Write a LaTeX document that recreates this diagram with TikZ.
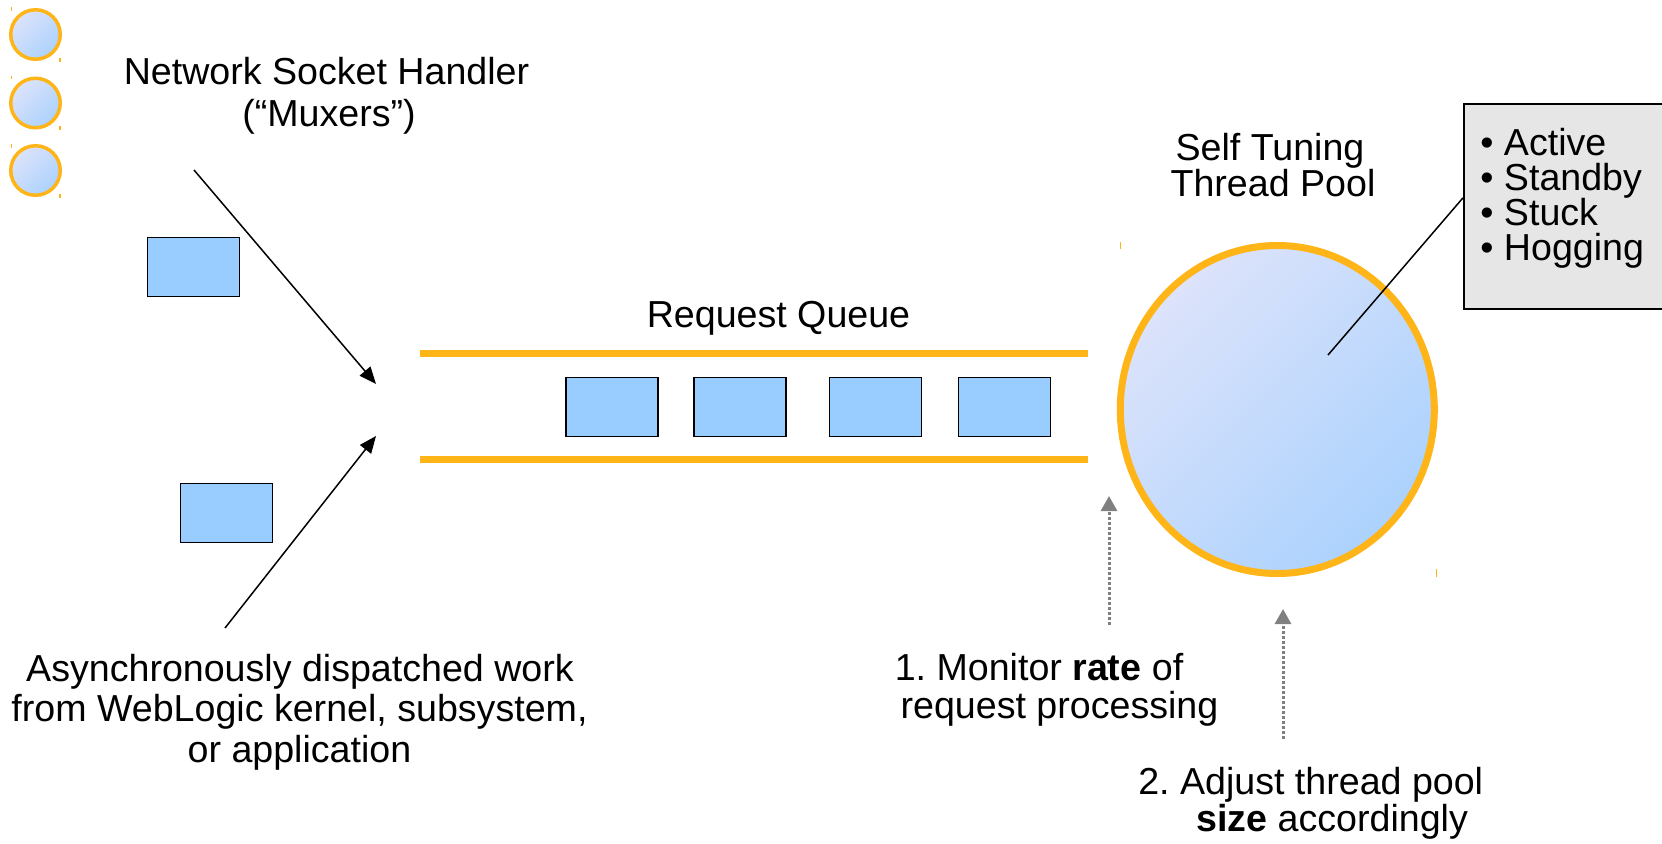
\documentclass[tikz,border=0pt]{standalone}
\usepackage{fontspec}
\setmainfont{Liberation Sans}
\usetikzlibrary{arrows.meta,shapes.geometric}
\frenchspacing

\definecolor{amber}{HTML}{FFB418}
\definecolor{jobblue}{HTML}{99CCFF}
\definecolor{poolA}{HTML}{DDE3FB}
\definecolor{poolB}{HTML}{ABD2FD}
\definecolor{panelgray}{HTML}{E6E6E6}
\definecolor{hint}{HTML}{808080}

\begin{document}
\begin{tikzpicture}[x=0.5pt,y=-0.5pt,
  txt/.style={font=\fontsize{18.8pt}{22pt}\selectfont, inner sep=0pt, anchor=base},
  job/.style={draw=black, line width=0.9pt, fill=jobblue, rectangle,
    minimum width=46pt, minimum height=29.5pt, inner sep=0pt},
  muxer/.style={circle, draw=amber, line width=1.75pt, inner sep=0pt,
    minimum size=24.75pt, top color=poolA, bottom color=poolB, shading angle=45},
  lane/.style={draw=amber, line width=3.5pt},
  tick/.style={draw=amber, line width=0.6pt},
  feed/.style={draw=black, line width=0.75pt, -{Triangle[length=8.5pt,width=7pt]}},
  probe/.style={draw=hint, line width=1.5pt, dash pattern=on 1.3pt off 1.2pt,
    -{Triangle[length=7.5pt,width=8pt]}},
]
\useasboundingbox (0,0) rectangle (1662,843);

% muxer threads
\node[muxer] (mx1) at (35.5,34.5) {};
\node[muxer] (mx2) at (35.5,103) {};
\node[muxer] (mx3) at (35.5,170.5) {};
\draw[tick] (11.7,7.3) -- (11.7,11) (60,57.7) -- (60,61.7);
\draw[tick] (11.7,76) -- (11.7,79.3) (60,126) -- (60,130);
\draw[tick] (11.7,144) -- (11.7,147.7) (60,194) -- (60,197.7);

\node[txt] (nsh1) at (326.5,84) {Network Socket Handler};
\node[txt] (nsh2) at (329,126) {(“Muxers”)};

% incoming work items
\node[job] (in1) at (193.5,267) {};
\node[job] (in2) at (226.5,513) {};

\coordinate (f1s) at (194,170);
\coordinate (f1e) at (376,384);
\coordinate (f2s) at (225,628);
\coordinate (f2e) at (376,436);
\draw[feed] (f1s) -- (f1e);
\draw[feed] (f2s) -- (f2e);

% request queue
\node[txt] (rq) at (778.5,327) {Request Queue};
\coordinate (qa1) at (420,353);
\coordinate (qa2) at (1088,353);
\coordinate (qb1) at (420,459);
\coordinate (qb2) at (1088,459);
\draw[lane] (qa1) -- (qa2);
\draw[lane] (qb1) -- (qb2);
\node[job] (q1) at (612,407) {};
\node[job] (q2) at (740,407) {};
\node[job] (q3) at (875.5,407) {};
\node[job] (q4) at (1004.5,407) {};

% thread pool
\node[txt] (st1) at (1270,160) {Self Tuning};
\node[txt] (st2) at (1273,196) {Thread Pool};
\node[ellipse, draw=amber, line width=3.5pt, inner sep=0pt,
  minimum width=157pt, minimum height=164pt,
  top color=poolA, bottom color=poolB, shading angle=45] (pool) at (1277.3,409.5) {};
\draw[tick] (1120.7,241.7) -- (1120.7,249.3) (1436.7,569.3) -- (1436.7,577.3);

% thread states
\node[draw=black, line width=0.75pt, fill=panelgray, rectangle, anchor=north west,
  minimum width=120pt, minimum height=102.5pt, inner sep=0pt] (panel) at (1463,103) {};
\node[txt, anchor=base west] (s1) at (1480,155) {• Active};
\node[txt, anchor=base west] (s2) at (1480,190) {• Standby};
\node[txt, anchor=base west] (s3) at (1480,225) {• Stuck};
\node[txt, anchor=base west] (s4) at (1480,260) {• Hogging};
\coordinate (pin) at (1328,355);
\draw[black, line width=0.75pt] (pin) -- (panel.176.4);

% feedback loop
\coordinate (p1s) at (1109,625);
\coordinate (p1e) at (1109,496);
\coordinate (p2s) at (1283,739);
\coordinate (p2e) at (1283,609);
\draw[probe] (p1s) -- (p1e);
\draw[probe] (p2s) -- (p2e);

\node[txt] (aw1) at (300,681) {Asynchronously dispatched work};
\node[txt] (aw2) at (299.5,721) {from WebLogic kernel, subsystem,};
\node[txt] (aw3) at (299.5,762) {or application};

\node[txt] (m1) at (1039,680) {1. Monitor \textbf{rate} of};
\node[txt] (m2) at (1059.5,718) {request processing};

\node[txt] (a1) at (1310.7,794) {2. Adjust thread pool};
\node[txt] (a2) at (1332,831) {\textbf{size} accordingly};
\end{tikzpicture}
\end{document}
